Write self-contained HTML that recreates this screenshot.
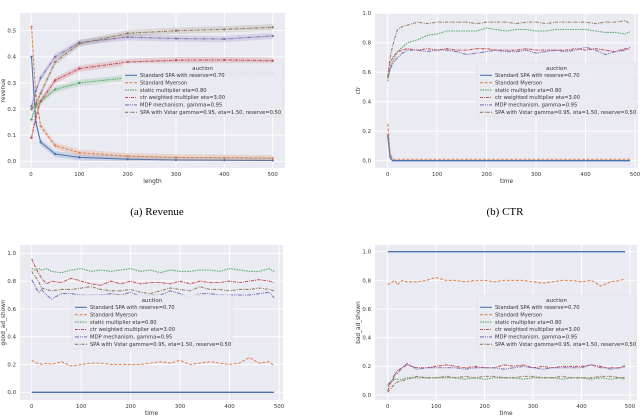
<!DOCTYPE html>
<html><head><meta charset="utf-8"><style>
body{margin:0;background:#fff;width:640px;height:416px;overflow:hidden}
svg{display:block}
text{font-family:"DejaVu Sans","Liberation Sans",sans-serif;fill:#333}
.cap{font-family:"Liberation Serif",serif;font-size:11px;fill:#000}
</style></head><body>
<svg id="fig" width="640" height="416"></svg>
<script>
const labels=["Standard SPA with reserve=0.70","Standard Myerson","static multiplier eta=0.80","ctr weighted multiplier eta=3.00","MDP mechanism, gamma=0.95","SPA with Vstar gamma=0.95, eta=1.50, reserve=0.50"];
const colors=["#4c72b0","#dd8452","#55a868","#c44e52","#8172b3","#937860"];
const dashes=["","3,1.5","1.5,1","3,1,1,1","4,1,1,1,1,1","3,1.5,1,1"];
const revLen=[1,10,20,50,100,200,300,400,500];
const revBlue=[0.40,0.15,0.073,0.028,0.015,0.008,0.005,0.004,0.003];
const revOrange=[0.515,0.25,0.135,0.06,0.033,0.02,0.015,0.014,0.012];
const revGreen=[0.16,0.21,0.23,0.275,0.30,0.32,0.33,0.335,0.338];
const revRed=[0.09,0.17,0.23,0.31,0.355,0.38,0.387,0.388,0.385];
const revPurple=[0.21,0.27,0.32,0.40,0.455,0.475,0.47,0.468,0.48];
const revBrown=[0.20,0.22,0.26,0.38,0.45,0.49,0.50,0.505,0.513];
const times=[0,5,10,15,20,30,40,60,80,100,120,140,160,180,200,220,240,260,280,300,320,340,360,380,400,420,440,460,480,490];
const ctrBlue=[.18,.02,0,0,0,0,0,0,0,0,0,0,0,0,0,0,0,0,0,0,0,0,0,0,0,0,0,0,0,0];
const ctrOrange=[.25,.05,.012,.01,.01,.01,.01,.01,.01,.01,.01,.01,.01,.01,.01,.01,.01,.01,.01,.01,.01,.01,.01,.01,.01,.01,.01,.01,.01,.01];
const ctrGreen=[.54,.62,.67,.71,.74,.77,.80,.82,.85,.86,.88,.88,.88,.88,.90,.89,.88,.89,.89,.88,.88,.89,.89,.89,.89,.88,.87,.87,.86,.875];
const ctrRed=[.56,.66,.70,.72,.74,.75,.76,.75,.76,.75,.76,.75,.75,.76,.76,.75,.75,.75,.76,.75,.75,.75,.75,.76,.75,.76,.75,.74,.76,.755];
const ctrPurple=[.57,.62,.66,.68,.70,.73,.75,.75,.74,.75,.75,.74,.72,.73,.74,.75,.74,.74,.75,.73,.74,.75,.74,.75,.77,.75,.72,.74,.75,.77];
const ctrBrown=[.57,.70,.78,.84,.89,.91,.92,.94,.93,.94,.94,.94,.94,.93,.94,.94,.94,.93,.94,.94,.93,.94,.94,.94,.94,.93,.94,.94,.95,.93];
const goodBlue=times.map(()=>0);
const goodOrange=[.23,.22,.21,.21,.20,.21,.20,.22,.19,.20,.21,.21,.20,.20,.20,.20,.21,.22,.21,.23,.20,.21,.22,.21,.20,.21,.25,.21,.22,.19];
const goodGreen=[.89,.88,.88,.89,.88,.89,.87,.86,.88,.89,.87,.88,.87,.88,.89,.87,.88,.86,.88,.87,.87,.88,.88,.87,.89,.88,.87,.87,.89,.87];
const goodRed=[.96,.92,.88,.85,.82,.78,.80,.79,.82,.80,.78,.77,.80,.78,.80,.78,.79,.79,.78,.80,.78,.80,.79,.79,.80,.79,.80,.81,.80,.79];
const goodPurple=[.81,.78,.74,.72,.74,.70,.67,.71,.71,.70,.70,.70,.71,.70,.72,.69,.70,.70,.73,.71,.68,.71,.71,.70,.70,.70,.70,.71,.72,.68];
const goodBrown=[.87,.84,.82,.79,.75,.74,.73,.74,.74,.75,.76,.74,.73,.73,.74,.72,.71,.73,.75,.74,.73,.76,.74,.74,.73,.74,.74,.75,.74,.73];
const badBlue=times.map(()=>1);
const badOrange=[.77,.78,.79,.80,.77,.80,.79,.79,.80,.82,.80,.80,.79,.80,.80,.79,.80,.80,.80,.79,.78,.79,.80,.80,.79,.80,.76,.79,.80,.81];
const badGreen=[.06,.08,.10,.11,.11,.11,.12,.12,.12,.12,.12,.12,.11,.12,.11,.12,.12,.12,.11,.12,.12,.12,.11,.12,.12,.11,.12,.11,.12,.11];
const badRed=[.03,.08,.10,.14,.17,.19,.21,.19,.19,.20,.21,.20,.19,.20,.19,.19,.21,.20,.21,.19,.20,.19,.20,.20,.20,.21,.19,.19,.19,.20];
const badPurple=[.07,.09,.11,.15,.15,.19,.22,.18,.19,.19,.19,.19,.18,.19,.19,.19,.18,.19,.20,.19,.18,.19,.19,.19,.19,.21,.20,.18,.19,.21];
const badBrown=[.02,.04,.06,.08,.09,.10,.11,.13,.12,.12,.13,.12,.13,.12,.13,.13,.12,.12,.13,.13,.12,.12,.13,.12,.12,.12,.13,.13,.12,.12];
const revTicks=[0,0.1,0.2,0.3,0.4,0.5], unitTicks=[0,0.2,0.4,0.6,0.8,1.0], xTicks=[0,100,200,300,400,500];

const NS="http://www.w3.org/2000/svg", fig=document.getElementById('fig');
function mk(tag,attrs,parent){const e=document.createElementNS(NS,tag);for(const k in attrs)e.setAttribute(k,attrs[k]);(parent||fig).appendChild(e);return e;}
function panel(cfg){
  const g=mk('g',{});
  
  
  const sx=v=>cfg.x0+(v-0)/500*(cfg.x500-cfg.x0);
  const sy=v=>cfg.yZero+(v-0)/(cfg.yTop-0)*(cfg.yTopPx-cfg.yZero);
  const bg=mk('rect',{x:cfg.L,y:cfg.T,width:cfg.R-cfg.L,height:cfg.B-cfg.T,fill:'#eaeaf2'},g);
  
  
  cfg.yticks.forEach(t=>{const y=sy(t);mk('line',{x1:cfg.L,x2:cfg.R,y1:y,y2:y,stroke:'#fff','stroke-width':0.9},g);
    const tx=mk('text',{x:cfg.L-4,y:y+1.9,'font-size':5.4,'text-anchor':'end'},g);tx.textContent=t.toFixed(1);
    });
  xTicks.forEach((t,i)=>{const x=sx(t);mk('line',{x1:x,x2:x,y1:cfg.T,y2:cfg.B,stroke:'#fff','stroke-width':0.9},g);
    const tx=mk('text',{x:x,y:cfg.B+8,'font-size':5.4,'text-anchor':'middle'},g);tx.textContent=t;
    });
  const xl=mk('text',{x:(cfg.L+cfg.R)/2,y:cfg.B+15,'font-size':5.8,'text-anchor':'middle'},g);xl.textContent=cfg.xtitle;
  
  const yl=mk('text',{x:0,y:0,'font-size':5.8,'text-anchor':'middle',transform:`translate(${cfg.L-15},${(cfg.T+cfg.B)/2}) rotate(-90)`},g);yl.textContent=cfg.ytitle;
  
  cfg.series.forEach((s,i)=>{
    const pts=s.map((v,j)=>[sx(cfg.xs[j]),sy(v)]);
    if(cfg.band){const up=s.map((v,j)=>sx(cfg.xs[j])+','+sy(v+0.012)),dn=s.map((v,j)=>sx(cfg.xs[j])+','+sy(Math.max(0,v-0.012))).reverse();
      const b=mk('polygon',{points:up.concat(dn).join(' '),fill:colors[i],opacity:0.2},g);
      }
    const p=mk('polyline',{points:pts.map(p=>p.join(',')).join(' '),fill:'none',stroke:colors[i],'stroke-width':i==0&&!cfg.band?1.4:1.05,'stroke-dasharray':dashes[i]},g);
    
    if(cfg.band)pts.forEach(q=>{const c=mk('circle',{cx:q[0],cy:q[1],r:1.2,fill:colors[i]},g);
      });
  });
  const lg=mk('g',{},g);
  
  mk('rect',{x:cfg.lx,y:cfg.ly,width:cfg.lw,height:54,fill:'#eaeaf2',stroke:'#ddd','stroke-width':0.6,opacity:0.9,rx:1.5},lg);
  const tt=mk('text',{x:cfg.lx+cfg.lw/2,y:cfg.ly+7,'font-size':5.6,'text-anchor':'middle'},lg);tt.textContent='auction';
  labels.forEach((l,i)=>{const y=cfg.ly+14+i*7.4;
    mk('line',{x1:cfg.lx+3,x2:cfg.lx+15,y1:y-1.7,y2:y-1.7,stroke:colors[i],'stroke-width':1.1,'stroke-dasharray':dashes[i]},lg);
    const t=mk('text',{x:cfg.lx+18,y:y,'font-size':5.2,fill:'#333'},lg);t.textContent=l;
    });
}
panel({name:'revenue-chart',L:20,R:285,T:13,B:168,x0:31,x500:272.7,yZero:161.3,yTop:0.5,yTopPx:30.7,yticks:revTicks,xs:revLen,
  series:[revBlue,revOrange,revGreen,revRed,revPurple,revBrown],band:true,xtitle:'length',ytitle:'revenue',lx:122,ly:63,lw:161});
panel({name:'ctr-chart',L:375,R:638,T:13,B:168,x0:387.7,x500:635,yZero:160.7,yTop:1,yTopPx:13.3,yticks:unitTicks,xs:times,
  series:[ctrBlue,ctrOrange,ctrGreen,ctrRed,ctrPurple,ctrBrown],xtitle:'time',ytitle:'ctr',lx:477,ly:63,lw:159});
panel({name:'good-ad-chart',L:20,R:283,T:245,B:400,x0:31.7,x500:279,yZero:392.3,yTop:1,yTopPx:253.3,yticks:unitTicks,xs:times,
  series:[goodBlue,goodOrange,goodGreen,goodRed,goodPurple,goodBrown],xtitle:'time',ytitle:'good_ad_shown',lx:72,ly:295,lw:160});
panel({name:'bad-ad-chart',L:375,R:637,T:245,B:400,x0:387.7,x500:630,yZero:395,yTop:1,yTopPx:251.7,yticks:unitTicks,xs:times,
  series:[badBlue,badOrange,badGreen,badRed,badPurple,badBrown],xtitle:'time',ytitle:'bad_ad_shown',lx:477,ly:295,lw:159});
[['(a) Revenue',157],['(b) CTR',505]].forEach(c=>{const t=mk('text',{x:c[1],y:215,'text-anchor':'middle',class:'cap'});t.textContent=c[0];
  });
</script>
</body></html>
